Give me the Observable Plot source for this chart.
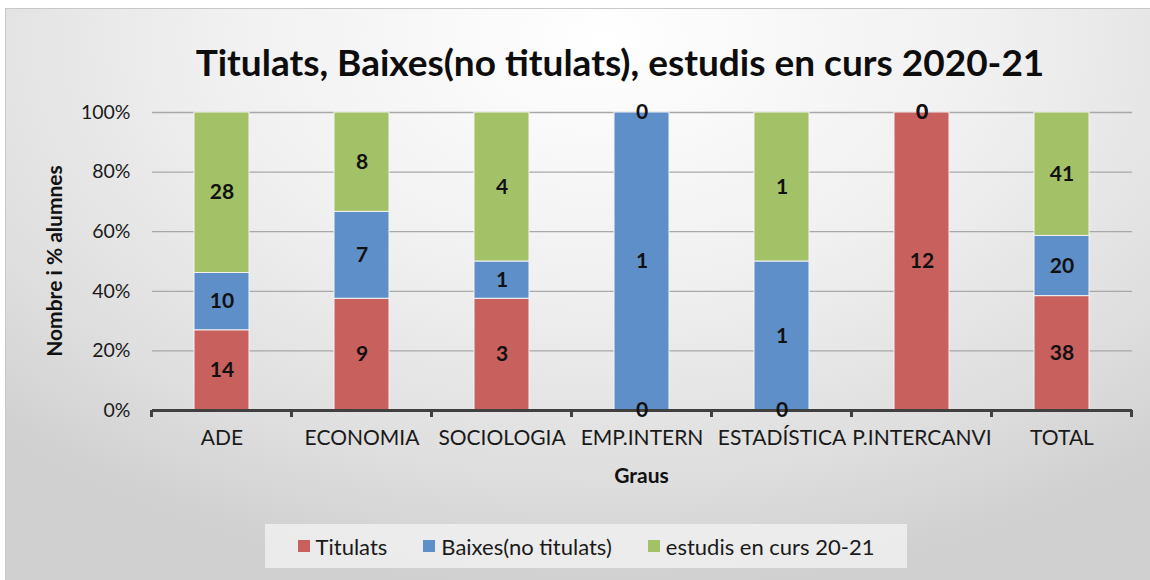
<!DOCTYPE html>
<html>
<head>
<meta charset="utf-8">
<script src="https://cdn.jsdelivr.net/npm/d3@7"></script>
<script src="https://cdn.jsdelivr.net/npm/@observablehq/plot@0.6"></script>
<style>
  html, body { margin: 0; padding: 0; background: #ffffff; width: 1150px; height: 580px; overflow: hidden; font-family: Lato, "Open Sans", sans-serif; }
  #frame { position: absolute; left: 5px; top: 8px; width: 1150px; height: 580px; box-sizing: border-box;
    border-left: 1px solid #c8c8c8; border-top: 1px solid #c8c8c8;
    background: radial-gradient(ellipse 75% 95% at 52% 5%, #ffffff 0%, #f0f0f0 45%, #dedede 80%, #d0d0d0 100%); }
  #title { position: absolute; left: 0; top: 40px; width: 1240px; text-align: center; font-weight: bold; font-size: 37px; line-height: 1.2; color: #0d0d0d; }
  #chart { position: absolute; left: 0; top: 90px; }
  #legend { position: absolute; left: 265px; top: 524px; width: 642px; height: 44px; background: rgba(240,240,240,0.85);
    display: flex; align-items: center; justify-content: center; gap: 36px; font-size: 22px; color: #1a1a1a; }
  .item { display: flex; align-items: center; gap: 6px; }
  .sw { width: 12px; height: 12px; display: inline-block; }
</style>
</head>
<body>
<div id="frame"></div>
<div id="title">Titulats, Baixes(no titulats), estudis en curs 2020-21</div>
<div id="chart"></div>
<div id="legend"></div>
<script>
const categories = ["ADE", "ECONOMIA", "SOCIOLOGIA", "EMP.INTERN", "ESTADÍSTICA", "P.INTERCANVI", "TOTAL"];
const seriesNames = ["Titulats", "Baixes(no titulats)", "estudis en curs 20-21"];
const titulats = [14, 9, 3, 0, 0, 12, 38];
const baixes = [10, 7, 1, 1, 1, 0, 20];
const estudis = [28, 8, 4, 0, 1, 0, 41];
const colors = ["#c8605d", "#5f8fc9", "#a3c166"];
const yTicks = [0, 0.2, 0.4, 0.6, 0.8, 1];
const yTitle = "Nombre i % alumnes";
const xTitle = "Graus";

const seriesValues = [titulats, baixes, estudis];
const data = [];
seriesNames.forEach((s, si) => {
  categories.forEach((c, ci) => data.push({cat: c, series: s, value: seriesValues[si][ci]}));
});

const FONT = "Lato, 'Open Sans', sans-serif";
const plot = Plot.plot({
  width: 1150,
  height: 410,
  marginLeft: 152,
  marginRight: 18,
  marginTop: 22,
  marginBottom: 90,
  style: {background: "transparent", fontFamily: FONT, fontSize: "21px", color: "#1a1a1a"},
  x: {domain: categories, paddingInner: 0.607, paddingOuter: 0.3035, label: null, tickSize: 0, tickPadding: 20},
  y: {domain: [0, 1], ticks: yTicks, tickFormat: d3.format(".0%"), label: null, tickSize: 0, tickPadding: 22},
  color: {domain: seriesNames, range: colors},
  marks: [
    Plot.ruleY(yTicks.filter(d => d > 0), {stroke: "#a8a8a8", strokeWidth: 1.3}),
    Plot.barY(data, Plot.stackY({x: "cat", y: "value", fill: "series", offset: "normalize", order: seriesNames, filter: d => d.value > 0, stroke: "#f4f4f4", strokeWidth: 1})),
    Plot.ruleY([0], {stroke: "#404040", strokeWidth: 3}),
    Plot.text(data, Plot.stackY({x: "cat", y: "value", z: "series", offset: "normalize", order: seriesNames, text: d => String(d.value), fontWeight: "bold", fontSize: 21, fill: "#111"}))
  ]
});
document.getElementById("chart").appendChild(plot);

// y tick labels slightly smaller than x tick labels
d3.select(plot).selectAll('g[aria-label="y-axis tick label"] text, g[aria-label="y-axis"] text').attr("font-size", 19.5);

// band boundary ticks on the x axis and axis titles, placed with the plot's own scales
const xs = plot.scale("x");
const ysc = plot.scale("y");
const svg = d3.select(plot);
const step = xs.step, bw = xs.bandwidth;
const gap = (step - bw) / 2;
const y0 = ysc.apply(0);
const bounds = categories.map(c => xs.apply(c) - gap).concat([xs.apply(categories[categories.length - 1]) + bw + gap]);
svg.append("g").selectAll("line").data(bounds).join("line")
  .attr("x1", d => d).attr("x2", d => d).attr("y1", y0).attr("y2", y0 + 7)
  .attr("stroke", "#404040").attr("stroke-width", 3);
const yMid = (ysc.apply(0) + ysc.apply(1)) / 2;
svg.append("text").attr("transform", `translate(57,${yMid}) rotate(-90)`)
  .attr("text-anchor", "middle").attr("dominant-baseline", "middle")
  .attr("font-weight", "bold").attr("font-size", 21).attr("fill", "#111").text(yTitle);
const xMid = (bounds[0] + bounds[bounds.length - 1]) / 2;
svg.append("text").attr("x", xMid).attr("y", y0 + 68)
  .attr("text-anchor", "middle").attr("dominant-baseline", "middle")
  .attr("font-weight", "bold").attr("font-size", 21).attr("fill", "#111").text(xTitle);

const legend = document.getElementById("legend");
seriesNames.forEach((s, i) => {
  const it = document.createElement("div");
  it.className = "item";
  it.innerHTML = `<span class="sw" style="background:${colors[i]}"></span><span>${s}</span>`;
  legend.appendChild(it);
});
</script>
</body>
</html>
